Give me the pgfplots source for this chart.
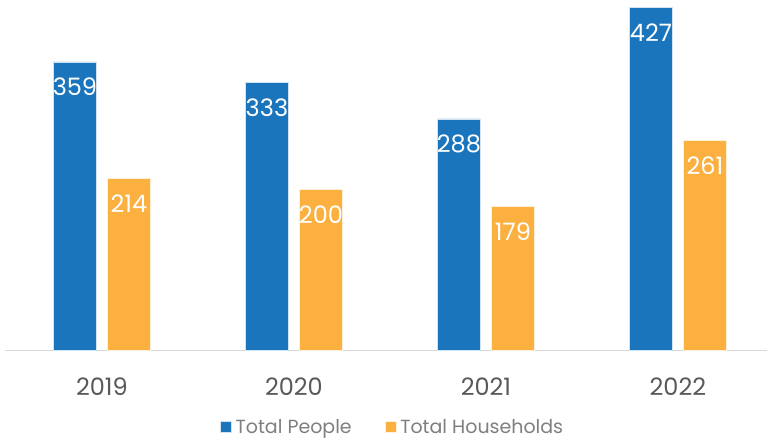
\documentclass[border=0pt]{standalone}
\usepackage{pgfplots}
\pgfplotsset{compat=1.18}
\usepackage{fontspec}
\setmainfont{Poppins}
\definecolor{cblue}{HTML}{1B75BC}
\definecolor{corange}{HTML}{FBB040}
\definecolor{tgray}{HTML}{595959}
\definecolor{lgray}{HTML}{7F7F7F}
\definecolor{agray}{HTML}{D9D9D9}
\begin{document}
\begin{tikzpicture}
\useasboundingbox (0,0) rectangle (767pt,440pt);
\begin{axis}[
  at={(5pt,90pt)}, anchor=south west,
  scale only axis, width=762pt, height=350pt,
  ybar, bar width=43pt,
  xmin=-0.505, xmax=3.464, ymin=0, ymax=436,
  axis y line=none,
  axis x line*=bottom,
  x axis line style={agray, line width=1pt},
  xtick={0,1,2,3}, xticklabels={2019,2020,2021,2022},
  major tick length=0pt,
  /pgf/number format/assume math mode=true,
  xticklabel style={font=\fontsize{24}{28}\selectfont, text=tgray, yshift=-24pt},
  nodes near coords,
  nodes near coords style={font=\fontsize{24}{28}\selectfont, text=white, anchor=center, yshift=-25pt},
  legend style={at={(0.51,-0.22)}, anchor=center, draw=none, font=\fontsize{19}{22}\selectfont, text=lgray, legend columns=2, /tikz/every even column/.append style={column sep=29pt}, inner sep=0pt, nodes={inner xsep=4pt}},
  legend image code/.code={\fill[#1] (0pt,-5.5pt) rectangle (11pt,5.5pt);},
  clip=false,
]
\addplot[fill=cblue, draw=white!80!cblue, line width=0.5pt, bar shift=-27pt] coordinates {(0,359) (1,333) (2,288) (3,427)};
\addplot[fill=corange, draw=white!80!corange, line width=0.5pt, bar shift=27pt] coordinates {(0,214) (1,200) (2,179) (3,261)};
\legend{Total People, Total Households}
\end{axis}
\end{tikzpicture}
\end{document}
